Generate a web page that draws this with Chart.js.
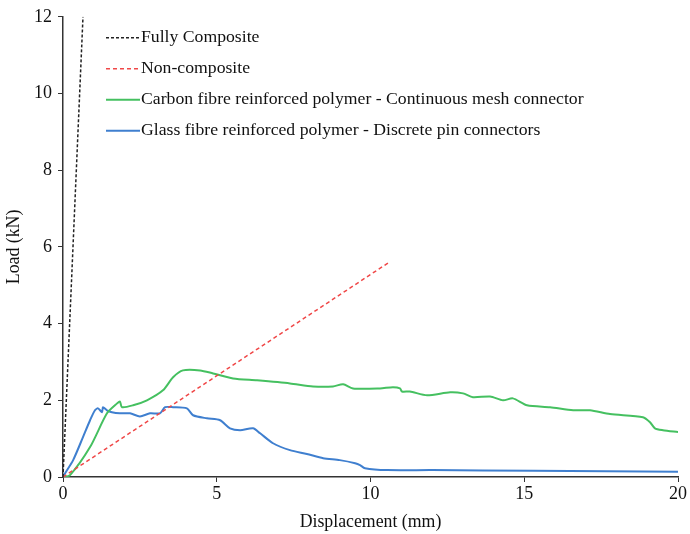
<!DOCTYPE html>
<html>
<head>
<meta charset="utf-8">
<script src="https://cdn.jsdelivr.net/npm/chart.js@4"></script>
<style>
  html, body { margin: 0; padding: 0; background: #fff; }
  #wrap { width: 690px; height: 534px; }
</style>
</head>
<body>
<div id="wrap"><canvas id="chart"></canvas></div>
<script>
// Data
const fullX = [0, 0.65];
const fullY = [0, 12];

const nonX = [0, 10.57];
const nonY = [0, 5.58];

const cfrpX = [0, 0.23, 0.88, 1.43, 1.76, 1.85, 1.92, 2.28, 2.73, 3.25, 3.58, 3.9, 4.46, 4.88, 5.53, 6.31, 7.38, 8.13, 8.78, 9.11, 9.43, 10.31, 10.73, 10.96, 11.02, 11.28, 11.84, 12.59, 13.01, 13.33, 13.89, 14.31, 14.63, 15.09, 15.84, 16.59, 17.14, 17.79, 18.86, 19.09, 19.25, 19.51, 20];
const cfrpY = [0, 0.05, 0.78, 1.66, 1.92, 1.97, 1.82, 1.87, 2.0, 2.26, 2.6, 2.78, 2.78, 2.70, 2.57, 2.52, 2.44, 2.36, 2.36, 2.42, 2.31, 2.31, 2.34, 2.31, 2.23, 2.23, 2.13, 2.21, 2.18, 2.08, 2.10, 2.0, 2.05, 1.87, 1.82, 1.74, 1.74, 1.64, 1.56, 1.43, 1.27, 1.22, 1.17];

const gfrpX = [0, 0.07, 0.33, 0.65, 0.88, 1.04, 1.14, 1.27, 1.30, 1.43, 1.59, 1.85, 2.18, 2.50, 2.83, 3.15, 3.32, 3.58, 4.03, 4.23, 4.68, 5.11, 5.43, 5.76, 6.18, 6.41, 6.83, 7.38, 7.93, 8.46, 9.0, 9.5, 9.66, 9.82, 10.54, 12.0, 15.3, 20];
const gfrpY = [0, 0.10, 0.44, 1.04, 1.48, 1.74, 1.79, 1.69, 1.82, 1.74, 1.69, 1.66, 1.66, 1.58, 1.66, 1.66, 1.82, 1.82, 1.79, 1.61, 1.53, 1.48, 1.27, 1.22, 1.27, 1.14, 0.88, 0.70, 0.60, 0.49, 0.44, 0.36, 0.31, 0.23, 0.18, 0.18, 0.16, 0.14];

const labels = [
  "Fully Composite",
  "Non-composite",
  "Carbon fibre reinforced polymer - Continuous mesh connector",
  "Glass fibre reinforced polymer - Discrete pin connectors"
];

const pts = (xs, ys) => xs.map((x, i) => ({ x: x, y: ys[i] }));
const FONT = "'Liberation Serif', 'Times New Roman', serif";

// legend drawn inside the plot, top-left
const insideLegend = {
  id: "insideLegend",
  afterDraw(chart) {
    const ctx = chart.ctx;
    const area = chart.chartArea;
    const x0 = area.left + 43, x1 = area.left + 77;
    let y = area.top + 21;
    ctx.save();
    ctx.font = "17.7px " + FONT;
    ctx.textBaseline = "middle";
    ctx.textAlign = "left";
    chart.data.datasets.forEach(ds => {
      ctx.beginPath();
      ctx.strokeStyle = ds.borderColor;
      ctx.lineWidth = ds.borderWidth;
      ctx.setLineDash(ds.borderDash || []);
      ctx.moveTo(x0, y);
      ctx.lineTo(x1, y);
      ctx.stroke();
      ctx.setLineDash([]);
      ctx.fillStyle = "#111";
      ctx.fillText(ds.label, x1 + 1, y);
      y += 31;
    });
    ctx.restore();
  }
};

new Chart(document.getElementById("chart"), {
  type: "line",
  data: {
    datasets: [
      { label: labels[0], data: pts(fullX, fullY), borderColor: "#222", borderWidth: 1.5, borderDash: [3, 2] },
      { label: labels[1], data: pts(nonX, nonY), borderColor: "#f04848", borderWidth: 1.5, borderDash: [4, 3] },
      { label: labels[2], data: pts(cfrpX, cfrpY), borderColor: "#45c060", borderWidth: 2, tension: 0.25 },
      { label: labels[3], data: pts(gfrpX, gfrpY), borderColor: "#3f7fcf", borderWidth: 2, tension: 0.25 }
    ]
  },
  options: {
    responsive: true,
    maintainAspectRatio: false,
    animation: false,
    elements: { point: { radius: 0 } },
    layout: { padding: { top: 15, right: 12, left: 0, bottom: 0 } },
    plugins: { legend: { display: false }, tooltip: { enabled: false } },
    scales: {
      x: {
        type: "linear",
        min: 0, max: 20,
        ticks: { stepSize: 5, color: "#111", font: { family: FONT, size: 18 }, padding: 1 },
        grid: { drawOnChartArea: false, tickLength: 5, color: "#333" },
        border: { color: "#333", width: 1.5 },
        title: { display: true, text: "Displacement (mm)", color: "#111", font: { family: FONT, size: 17.8 }, padding: { top: 9, bottom: 1 } },
        afterFit(scale) { scale.height = 57; }
      },
      y: {
        min: 0, max: 12,
        ticks: { stepSize: 2, color: "#111", font: { family: FONT, size: 18 }, padding: 6 },
        grid: { drawOnChartArea: false, tickLength: 5, color: "#333" },
        border: { color: "#333", width: 1.5 },
        title: { display: true, text: "Load (kN)", color: "#111", font: { family: FONT, size: 17.8 }, padding: { bottom: 2 } },
        afterFit(scale) { scale.width = 63; }
      }
    }
  },
  plugins: [insideLegend]
});
</script>
</body>
</html>
